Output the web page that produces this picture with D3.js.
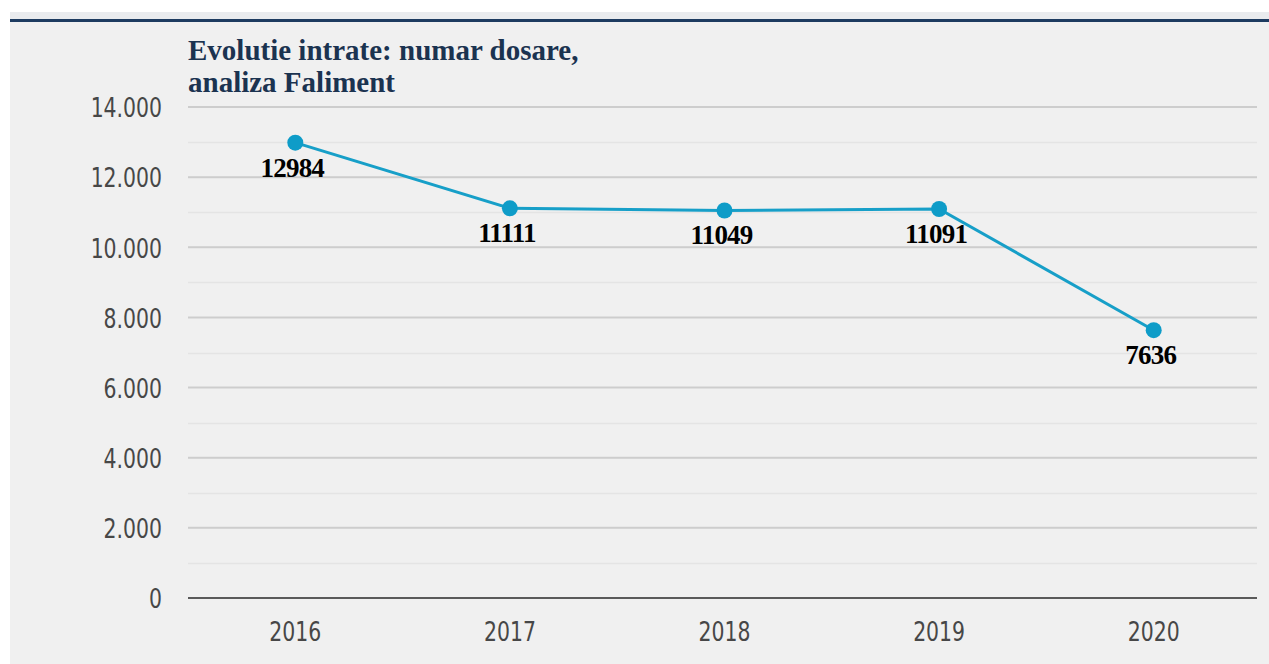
<!DOCTYPE html>
<html><head><meta charset="utf-8">
<script src="https://cdn.jsdelivr.net/npm/d3@7"></script>
<style>
html,body{margin:0;padding:0;background:#fff;}
svg{display:block;}
</style></head>
<body>
<svg id="chart" width="1269" height="664"></svg>
<script>
const years = ["2016","2017","2018","2019","2020"];
const values = [12984, 11111, 11049, 11091, 7636];
const yMajorTicks = [0, 2000, 4000, 6000, 8000, 10000, 12000, 14000];
const yMinorTicks = [1000, 3000, 5000, 7000, 9000, 11000, 13000];
const titleLines = ["Evolutie intrate: numar dosare,", "analiza Faliment"];

(function(){
const svg = d3.select("#chart");
const W = 1269, H = 664;
const mLeft = 188, mRight = 1261, mTop = 107, mBottom = 598;

svg.append("rect").attr("x",10).attr("y",12).attr("width",W-10).attr("height",H-12).attr("fill","#f0f0f0");
svg.append("rect").attr("x",10).attr("y",12).attr("width",W-10).attr("height",7).attr("fill","#e9ebee");
svg.append("line").attr("x1",10).attr("x2",W).attr("y1",20.5).attr("y2",20.5)
  .attr("stroke","#1d3b60").attr("stroke-width",3);

const x = d3.scaleBand().domain(years).range([mLeft, mRight]);
const y = d3.scaleLinear().domain([0, 14000]).range([mBottom, mTop]);

const fmt = d => d === 0 ? "0" : d3.format(",")(d).replace(/,/g, ".");
const squeeze = (sel, f) => sel.each(function(){
  const w = this.getComputedTextLength();
  d3.select(this).attr("textLength", w * f).attr("lengthAdjust", "spacingAndGlyphs");
});

svg.append("g").selectAll("line").data(yMinorTicks).join("line")
  .attr("x1", mLeft).attr("x2", mRight - 4)
  .attr("y1", d => Math.round(y(d)) + 0.5).attr("y2", d => Math.round(y(d)) + 0.5)
  .attr("stroke", "#e4e4e4").attr("stroke-width", 1.5);
svg.append("g").selectAll("line").data(yMajorTicks.filter(d => d > 0)).join("line")
  .attr("x1", mLeft).attr("x2", mRight - 4)
  .attr("y1", d => y(d)).attr("y2", d => y(d))
  .attr("stroke", "#cdcdcd").attr("stroke-width", 2);

const yAxis = d3.axisLeft(y).tickValues(yMajorTicks).tickFormat(fmt).tickSize(0).tickPadding(26);
const yg = svg.append("g").attr("transform", `translate(${mLeft},0)`).call(yAxis);
yg.select(".domain").remove();
yg.selectAll("text").attr("font-family", "'Liberation Sans Narrow','DejaVu Sans Condensed',sans-serif")
  .attr("font-size", 27).attr("fill", "#474747").attr("dy", "0.36em").call(squeeze, 0.84);

const xAxis = d3.axisBottom(x).tickSize(0).tickPadding(23);
const xg = svg.append("g").attr("transform", `translate(0,${mBottom})`).call(xAxis);
xg.select(".domain").remove();
xg.selectAll("text").attr("font-family", "'Liberation Sans Narrow','DejaVu Sans Condensed',sans-serif")
  .attr("font-size", 27).attr("fill", "#474747").attr("dy", "0.75em").call(squeeze, 0.84);
svg.append("line").attr("x1", mLeft).attr("x2", mRight - 4).attr("y1", mBottom).attr("y2", mBottom)
  .attr("stroke", "#5a5a5a").attr("stroke-width", 2);

const cx = d => x(d) + x.bandwidth() / 2;
const line = d3.line().x((d, i) => cx(years[i])).y(d => y(d));
svg.append("path").datum(values).attr("d", line).attr("fill", "none")
  .attr("stroke", "#179fc8").attr("stroke-width", 3);
svg.append("g").selectAll("circle").data(values).join("circle")
  .attr("cx", (d, i) => cx(years[i])).attr("cy", d => y(d)).attr("r", 8).attr("fill", "#0e9cc8");

svg.append("g").selectAll("text").data(values).join("text")
  .attr("x", (d, i) => cx(years[i]) - 3).attr("y", d => y(d) + 34)
  .attr("text-anchor", "middle")
  .attr("font-family", "'Liberation Serif','DejaVu Serif',serif").attr("font-weight", "bold")
  .attr("font-size", 27).attr("fill", "#000").attr("letter-spacing", "-0.8")
  .text(d => d);

svg.append("g").selectAll("text").data(titleLines).join("text")
  .attr("x", 188).attr("y", (d, i) => 60 + i * 32)
  .attr("font-family", "'Liberation Serif','DejaVu Serif',serif").attr("font-weight", "bold")
  .attr("font-size", 29).attr("fill", "#1b3350")
  .text(d => d);
})();
</script>
</body></html>
